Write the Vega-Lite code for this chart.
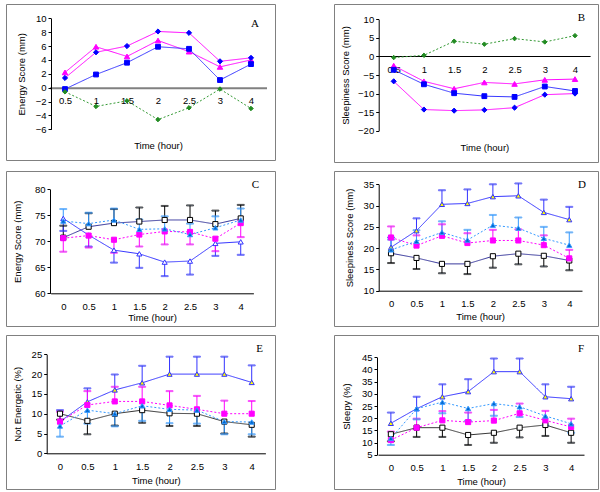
{
  "$schema": "https://vega.github.io/schema/vega-lite/v6.json",
  "padding": {"left": 5, "top": 3, "right": 0, "bottom": 0},
  "background": "white",
  "bounds": "flush",
  "columns": 2,
  "spacing": {"row": 9, "column": 59},
  "resolve": {"scale": {"x": "independent", "y": "independent", "color": "independent", "stroke": "independent", "fill": "independent", "shape": "independent", "size": "independent", "strokeDash": "independent"}},
  "datasets": {
    "d": [
      {"p":"A","s":"D1","t":"0.5","v":2.2},{"p":"A","s":"D1","t":"1","v":5.9},{"p":"A","s":"D1","t":"1.5","v":4.5},{"p":"A","s":"D1","t":"2","v":6.8},{"p":"A","s":"D1","t":"2.5","v":5.2},{"p":"A","s":"D1","t":"3","v":3.0},{"p":"A","s":"D1","t":"4","v":4.0},
      {"p":"A","s":"D2","t":"0.5","v":1.4},{"p":"A","s":"D2","t":"1","v":5.1},{"p":"A","s":"D2","t":"1.5","v":6.0},{"p":"A","s":"D2","t":"2","v":8.1},{"p":"A","s":"D2","t":"2.5","v":7.9},{"p":"A","s":"D2","t":"3","v":3.8},{"p":"A","s":"D2","t":"4","v":4.3},
      {"p":"A","s":"D3","t":"0.5","v":-0.2},{"p":"A","s":"D3","t":"1","v":1.9},{"p":"A","s":"D3","t":"1.5","v":3.6},{"p":"A","s":"D3","t":"2","v":5.9},{"p":"A","s":"D3","t":"2.5","v":5.6},{"p":"A","s":"D3","t":"3","v":1.1},{"p":"A","s":"D3","t":"4","v":3.4},
      {"p":"A","s":"D4","t":"0.5","v":-0.6},{"p":"A","s":"D4","t":"1","v":-2.7},{"p":"A","s":"D4","t":"1.5","v":-1.9},{"p":"A","s":"D4","t":"2","v":-4.6},{"p":"A","s":"D4","t":"2.5","v":-2.9},{"p":"A","s":"D4","t":"3","v":-0.2},{"p":"A","s":"D4","t":"4","v":-3.0},

      {"p":"B","s":"D1","t":"0.5","v":-2.5},{"p":"B","s":"D1","t":"1","v":-6.7},{"p":"B","s":"D1","t":"1.5","v":-8.7},{"p":"B","s":"D1","t":"2","v":-7.0},{"p":"B","s":"D1","t":"2.5","v":-7.4},{"p":"B","s":"D1","t":"3","v":-6.3},{"p":"B","s":"D1","t":"4","v":-6.1},
      {"p":"B","s":"D2","t":"0.5","v":-6.7},{"p":"B","s":"D2","t":"1","v":-14.3},{"p":"B","s":"D2","t":"1.5","v":-14.6},{"p":"B","s":"D2","t":"2","v":-14.4},{"p":"B","s":"D2","t":"2.5","v":-13.8},{"p":"B","s":"D2","t":"3","v":-10.3},{"p":"B","s":"D2","t":"4","v":-10.0},
      {"p":"B","s":"D3","t":"0.5","v":-3.6},{"p":"B","s":"D3","t":"1","v":-7.5},{"p":"B","s":"D3","t":"1.5","v":-9.9},{"p":"B","s":"D3","t":"2","v":-10.7},{"p":"B","s":"D3","t":"2.5","v":-10.9},{"p":"B","s":"D3","t":"3","v":-8.1},{"p":"B","s":"D3","t":"4","v":-9.3},
      {"p":"B","s":"D4","t":"0.5","v":-0.3},{"p":"B","s":"D4","t":"1","v":0.3},{"p":"B","s":"D4","t":"1.5","v":4.1},{"p":"B","s":"D4","t":"2","v":3.3},{"p":"B","s":"D4","t":"2.5","v":4.8},{"p":"B","s":"D4","t":"3","v":3.9},{"p":"B","s":"D4","t":"4","v":5.6},

      {"p":"C","s":"G1","t":"0","v":70.7,"e":73.0},{"p":"C","s":"G1","t":"0.5","v":72.8,"e":75.4},{"p":"C","s":"G1","t":"1","v":73.5,"e":76.2},{"p":"C","s":"G1","t":"1.5","v":73.8,"e":76.5},{"p":"C","s":"G1","t":"2","v":74.1,"e":76.8},{"p":"C","s":"G1","t":"2.5","v":74.1,"e":76.9},{"p":"C","s":"G1","t":"3","v":73.3,"e":75.9},{"p":"C","s":"G1","t":"4","v":74.4,"e":77.0},
      {"p":"C","s":"G2","t":"0","v":74.4,"e":72.0},{"p":"C","s":"G2","t":"0.5","v":71.2,"e":69.0},{"p":"C","s":"G2","t":"1","v":68.3,"e":65.9},{"p":"C","s":"G2","t":"1.5","v":67.6,"e":64.9},{"p":"C","s":"G2","t":"2","v":66.0,"e":63.3},{"p":"C","s":"G2","t":"2.5","v":66.2,"e":63.6},{"p":"C","s":"G2","t":"3","v":69.6,"e":67.2},{"p":"C","s":"G2","t":"4","v":69.9,"e":67.4},
      {"p":"C","s":"G3","t":"0","v":70.6,"e":68.0},{"p":"C","s":"G3","t":"0.5","v":71.1,"e":68.8},{"p":"C","s":"G3","t":"1","v":70.3,"e":67.8},{"p":"C","s":"G3","t":"1.5","v":71.3,"e":69.0},{"p":"C","s":"G3","t":"2","v":71.9,"e":69.4},{"p":"C","s":"G3","t":"2.5","v":71.8,"e":69.4},{"p":"C","s":"G3","t":"3","v":70.5,"e":68.1},{"p":"C","s":"G3","t":"4","v":73.5,"e":70.8},
      {"p":"C","s":"G4","t":"0","v":73.9,"e":76.2},{"p":"C","s":"G4","t":"0.5","v":73.4,"e":75.5},{"p":"C","s":"G4","t":"1","v":74.1,"e":76.3},{"p":"C","s":"G4","t":"1.5","v":72.3,"e":74.2},{"p":"C","s":"G4","t":"2","v":72.4,"e":74.8},{"p":"C","s":"G4","t":"2.5","v":71.3,"e":73.4},{"p":"C","s":"G4","t":"3","v":72.6,"e":74.8},{"p":"C","s":"G4","t":"4","v":74.1,"e":76.3},

      {"p":"D","s":"G1","t":"0","v":18.8,"e":16.5},{"p":"D","s":"G1","t":"0.5","v":17.7,"e":15.1},{"p":"D","s":"G1","t":"1","v":16.3,"e":14.1},{"p":"D","s":"G1","t":"1.5","v":16.3,"e":13.9},{"p":"D","s":"G1","t":"2","v":18.1,"e":15.4},{"p":"D","s":"G1","t":"2.5","v":18.7,"e":16.2},{"p":"D","s":"G1","t":"3","v":18.2,"e":15.7},{"p":"D","s":"G1","t":"4","v":17.1,"e":14.8},
      {"p":"D","s":"G2","t":"0","v":20.2,"e":22.5},{"p":"D","s":"G2","t":"0.5","v":24.1,"e":27.0},{"p":"D","s":"G2","t":"1","v":30.3,"e":33.6},{"p":"D","s":"G2","t":"1.5","v":30.5,"e":33.8},{"p":"D","s":"G2","t":"2","v":32.1,"e":35.0},{"p":"D","s":"G2","t":"2.5","v":32.3,"e":35.2},{"p":"D","s":"G2","t":"3","v":28.4,"e":31.4},{"p":"D","s":"G2","t":"4","v":26.7,"e":29.7},
      {"p":"D","s":"G3","t":"0","v":22.5,"e":25.1},{"p":"D","s":"G3","t":"0.5","v":20.6,"e":23.0},{"p":"D","s":"G3","t":"1","v":22.9,"e":25.6},{"p":"D","s":"G3","t":"1.5","v":21.2,"e":23.5},{"p":"D","s":"G3","t":"2","v":21.8,"e":24.3},{"p":"D","s":"G3","t":"2.5","v":21.8,"e":24.4},{"p":"D","s":"G3","t":"3","v":20.7,"e":23.0},{"p":"D","s":"G3","t":"4","v":17.6,"e":19.6},
      {"p":"D","s":"G4","t":"0","v":19.6,"e":22.0},{"p":"D","s":"G4","t":"0.5","v":21.6,"e":24.2},{"p":"D","s":"G4","t":"1","v":23.7,"e":26.3},{"p":"D","s":"G4","t":"1.5","v":21.9,"e":24.3},{"p":"D","s":"G4","t":"2","v":25.4,"e":27.8},{"p":"D","s":"G4","t":"2.5","v":24.7,"e":27.2},{"p":"D","s":"G4","t":"3","v":22.3,"e":25.0},{"p":"D","s":"G4","t":"4","v":20.7,"e":23.7},

      {"p":"E","s":"G1","t":"0","v":10.0,"e":8.5},{"p":"E","s":"G1","t":"0.5","v":8.2,"e":4.8},{"p":"E","s":"G1","t":"1","v":10.0,"e":7.0},{"p":"E","s":"G1","t":"1.5","v":10.9,"e":7.7},{"p":"E","s":"G1","t":"2","v":10.1,"e":6.9},{"p":"E","s":"G1","t":"2.5","v":10.0,"e":6.9},{"p":"E","s":"G1","t":"3","v":8.0,"e":5.0},{"p":"E","s":"G1","t":"4","v":7.2,"e":4.2},
      {"p":"E","s":"G2","t":"0","v":8.0,"e":10.9},{"p":"E","s":"G2","t":"0.5","v":13.0,"e":16.4},{"p":"E","s":"G2","t":"1","v":16.0,"e":19.9},{"p":"E","s":"G2","t":"1.5","v":17.8,"e":22.1},{"p":"E","s":"G2","t":"2","v":20.0,"e":24.4},{"p":"E","s":"G2","t":"2.5","v":20.0,"e":24.4},{"p":"E","s":"G2","t":"3","v":20.0,"e":24.4},{"p":"E","s":"G2","t":"4","v":17.9,"e":22.2},
      {"p":"E","s":"G3","t":"0","v":8.0,"e":10.5},{"p":"E","s":"G3","t":"0.5","v":12.2,"e":15.7},{"p":"E","s":"G3","t":"1","v":13.1,"e":16.8},{"p":"E","s":"G3","t":"1.5","v":13.1,"e":16.8},{"p":"E","s":"G3","t":"2","v":12.1,"e":15.7},{"p":"E","s":"G3","t":"2.5","v":11.1,"e":14.5},{"p":"E","s":"G3","t":"3","v":10.0,"e":13.3},{"p":"E","s":"G3","t":"4","v":10.0,"e":13.2},
      {"p":"E","s":"G4","t":"0","v":6.9,"e":4.2},{"p":"E","s":"G4","t":"0.5","v":10.9,"e":7.5},{"p":"E","s":"G4","t":"1","v":10.0,"e":6.8},{"p":"E","s":"G4","t":"1.5","v":12.0,"e":8.2},{"p":"E","s":"G4","t":"2","v":11.1,"e":7.6},{"p":"E","s":"G4","t":"2.5","v":10.9,"e":7.5},{"p":"E","s":"G4","t":"3","v":8.0,"e":4.8},{"p":"E","s":"G4","t":"4","v":7.9,"e":4.8},

      {"p":"F","s":"G1","t":"0","v":13.4,"e":10.5},{"p":"F","s":"G1","t":"0.5","v":16.1,"e":12.3},{"p":"F","s":"G1","t":"1","v":16.1,"e":12.3},{"p":"F","s":"G1","t":"1.5","v":13.1,"e":9.0},{"p":"F","s":"G1","t":"2","v":14.0,"e":9.9},{"p":"F","s":"G1","t":"2.5","v":16.1,"e":12.1},{"p":"F","s":"G1","t":"3","v":17.2,"e":12.7},{"p":"F","s":"G1","t":"4","v":14.0,"e":9.9},
      {"p":"F","s":"G2","t":"0","v":17.9,"e":22.3},{"p":"F","s":"G2","t":"0.5","v":23.9,"e":28.8},{"p":"F","s":"G2","t":"1","v":28.8,"e":33.9},{"p":"F","s":"G2","t":"1.5","v":30.9,"e":36.0},{"p":"F","s":"G2","t":"2","v":39.1,"e":44.5},{"p":"F","s":"G2","t":"2.5","v":39.1,"e":44.5},{"p":"F","s":"G2","t":"3","v":28.8,"e":33.9},{"p":"F","s":"G2","t":"4","v":28.0,"e":32.9},
      {"p":"F","s":"G3","t":"0","v":11.0,"e":14.5},{"p":"F","s":"G3","t":"0.5","v":16.1,"e":19.8},{"p":"F","s":"G3","t":"1","v":19.1,"e":22.9},{"p":"F","s":"G3","t":"1.5","v":18.4,"e":22.3},{"p":"F","s":"G3","t":"2","v":19.0,"e":23.4},{"p":"F","s":"G3","t":"2.5","v":22.0,"e":26.0},{"p":"F","s":"G3","t":"3","v":19.1,"e":23.0},{"p":"F","s":"G3","t":"4","v":16.4,"e":19.8},
      {"p":"F","s":"G4","t":"0","v":11.7,"e":9.0},{"p":"F","s":"G4","t":"0.5","v":23.9,"e":19.5},{"p":"F","s":"G4","t":"1","v":26.6,"e":22.0},{"p":"F","s":"G4","t":"1.5","v":24.0,"e":19.0},{"p":"F","s":"G4","t":"2","v":26.0,"e":21.0},{"p":"F","s":"G4","t":"2.5","v":24.7,"e":20.5},{"p":"F","s":"G4","t":"3","v":20.9,"e":17.0},{"p":"F","s":"G4","t":"4","v":17.7,"e":14.0}
    ]
  },
  "concat": [
    {
      "width": 269, "height": 156,
      "data": {"name": "d"},
      "transform": [{"filter": "datum.p === 'A'"}],
      "title": {"text": "A", "anchor": "end", "frame": "group", "offset": -25, "dx": -16, "font": "Liberation Serif", "fontSize": 11, "fontWeight": "normal", "color": "#000"},
      "encoding": {
        "x": {"field": "t", "type": "ordinal", "scale": {"type": "point", "domain": ["0.5","1","1.5","2","2.5","3","4"], "range": [43.5, 260.5], "padding": 0.5},
          "axis": {"title": "Time (hour)", "labelAngle": 0, "offset": -72.3, "ticks": false, "tickSize": 0, "labelPadding": 8, "titlePadding": 35, "domainColor": "#808080", "domainWidth": 2}},
        "y": {"field": "v", "type": "quantitative", "scale": {"domain": [-6, 10], "range": [125.3, 14.3], "nice": false, "zero": false},
          "axis": {"title": "Energy Score (mm)", "values": [-6,-4,-2,0,2,4,6,8,10], "offset": -45, "titlePadding": 9}}
      },
      "layer": [
        {"mark": {"type": "line", "strokeWidth": 1},
         "encoding": {
           "color": {"field": "s", "type": "nominal", "legend": null, "scale": {"domain": ["D1","D2","D3","D4"], "range": ["#FF00FF","#FF00FF","#3333FF","#339933"]}},
           "strokeDash": {"field": "s", "type": "nominal", "legend": null, "scale": {"domain": ["D1","D2","D3","D4"], "range": [[1,0],[1,0],[1,0],[2,2]]}}}},
        {"mark": {"type": "point", "opacity": 1, "fillOpacity": 1, "strokeWidth": 1},
         "encoding": {
           "shape": {"field": "s", "type": "nominal", "legend": null, "scale": {"domain": ["D1","D2","D3","D4"], "range": ["triangle-up","diamond","square","diamond"]}},
           "fill": {"field": "s", "type": "nominal", "legend": null, "scale": {"domain": ["D1","D2","D3","D4"], "range": ["#FF00FF","#0000FF","#0000FF","#228B22"]}},
           "stroke": {"field": "s", "type": "nominal", "legend": null, "scale": {"domain": ["D1","D2","D3","D4"], "range": ["#FF00FF","#0000FF","#0000FF","#228B22"]}},
           "size": {"field": "s", "type": "ordinal", "legend": null, "scale": {"domain": ["D1","D2","D3","D4"], "range": [30, 20, 26, 12]}}}}
      ]
    },
    {
      "width": 264, "height": 158,
      "data": {"name": "d"},
      "transform": [{"filter": "datum.p === 'B'"}],
      "title": {"text": "B", "anchor": "end", "frame": "group", "offset": -19, "dx": -13, "font": "Liberation Serif", "fontSize": 11, "fontWeight": "normal", "color": "#000"},
      "encoding": {
        "x": {"field": "t", "type": "ordinal", "scale": {"type": "point", "domain": ["0.5","1","1.5","2","2.5","3","4"], "range": [44.6, 256.1], "padding": 0.5},
          "axis": {"title": "Time (hour)", "labelAngle": 0, "offset": -106, "ticks": false, "tickSize": 0, "labelPadding": 8, "titlePadding": 69}},
        "y": {"field": "v", "type": "quantitative", "scale": {"domain": [-20, 10], "range": [126.7, 15.3], "nice": false, "zero": false},
          "axis": {"title": "Sleepiness Score (mm)", "values": [-20,-15,-10,-5,0,5,10], "offset": -44.7, "titlePadding": 7}}
      },
      "layer": [
        {"mark": {"type": "line", "strokeWidth": 1},
         "encoding": {
           "color": {"field": "s", "type": "nominal", "legend": null, "scale": {"domain": ["D1","D2","D3","D4"], "range": ["#FF00FF","#FF00FF","#3333FF","#339933"]}},
           "strokeDash": {"field": "s", "type": "nominal", "legend": null, "scale": {"domain": ["D1","D2","D3","D4"], "range": [[1,0],[1,0],[1,0],[2,2]]}}}},
        {"mark": {"type": "point", "opacity": 1, "fillOpacity": 1, "strokeWidth": 1},
         "encoding": {
           "shape": {"field": "s", "type": "nominal", "legend": null, "scale": {"domain": ["D1","D2","D3","D4"], "range": ["triangle-up","diamond","square","diamond"]}},
           "fill": {"field": "s", "type": "nominal", "legend": null, "scale": {"domain": ["D1","D2","D3","D4"], "range": ["#FF00FF","#0000FF","#0000FF","#228B22"]}},
           "stroke": {"field": "s", "type": "nominal", "legend": null, "scale": {"domain": ["D1","D2","D3","D4"], "range": ["#FF00FF","#0000FF","#0000FF","#228B22"]}},
           "size": {"field": "s", "type": "ordinal", "legend": null, "scale": {"domain": ["D1","D2","D3","D4"], "range": [30, 20, 26, 12]}}}}
      ]
    },
    {
      "width": 269, "height": 155,
      "data": {"name": "d"},
      "transform": [{"filter": "datum.p === 'C'"}],
      "title": {"text": "C", "anchor": "end", "frame": "group", "offset": -19, "dx": -16, "font": "Liberation Serif", "fontSize": 11, "fontWeight": "normal", "color": "#000"},
      "encoding": {
        "x": {"field": "t", "type": "ordinal", "scale": {"type": "point", "domain": ["0","0.5","1","1.5","2","2.5","3","4"], "range": [44.6, 247.4], "padding": 0.5},
          "axis": {"title": "Time (hour)", "labelAngle": 0, "offset": -32.7, "ticks": false, "tickSize": 0, "labelPadding": 8, "titlePadding": 2}},
        "y": {"field": "v", "type": "quantitative", "scale": {"domain": [60, 80], "range": [122.3, 18.3], "nice": false, "zero": false},
          "axis": {"title": "Energy Score (mm)", "values": [60,65,70,75,80], "offset": -44, "titlePadding": 12}}
      },
      "layer": [
        {"mark": {"type": "line", "strokeWidth": 1},
         "encoding": {
           "color": {"field": "s", "type": "nominal", "legend": null, "scale": {"domain": ["G1","G2","G3","G4"], "range": ["#333399","#3333FF","#FF00FF","#3399FF"]}},
           "strokeDash": {"field": "s", "type": "nominal", "legend": null, "scale": {"domain": ["G1","G2","G3","G4"], "range": [[1,0],[1,0],[2,2],[2,2]]}}}},
        {"transform": [{"filter": {"field": "e", "valid": true}}],
         "mark": {"type": "rule", "strokeWidth": 1},
         "encoding": {"y2": {"field": "e"},
           "stroke": {"field": "s", "type": "nominal", "legend": null, "scale": {"domain": ["G1","G2","G3","G4"], "range": ["#000000","#3333FF","#FF00FF","#3399FF"]}}}},
        {"transform": [{"filter": {"field": "e", "valid": true}}],
         "mark": {"type": "tick", "size": 7, "thickness": 1},
         "encoding": {"y": {"field": "e", "type": "quantitative"},
           "stroke": {"field": "s", "type": "nominal", "legend": null}}},
        {"mark": {"type": "point", "opacity": 1, "fillOpacity": 1, "strokeWidth": 1},
         "encoding": {
           "shape": {"field": "s", "type": "nominal", "legend": null, "scale": {"domain": ["G1","G2","G3","G4"], "range": ["square","triangle-up","square","triangle-up"]}},
           "fill": {"field": "s", "type": "nominal", "legend": null, "scale": {"domain": ["G1","G2","G3","G4"], "range": ["#FFFFFF","#FFFFFF","#FF00FF","#0066CC"]}},
           "stroke": {"field": "s", "type": "nominal", "legend": null},
           "size": {"value": 26}}}
      ]
    },
    {
      "width": 264, "height": 155,
      "data": {"name": "d"},
      "transform": [{"filter": "datum.p === 'D'"}],
      "title": {"text": "D", "anchor": "end", "frame": "group", "offset": -19, "dx": -12, "font": "Liberation Serif", "fontSize": 11, "fontWeight": "normal", "color": "#000"},
      "encoding": {
        "x": {"field": "t", "type": "ordinal", "scale": {"type": "point", "domain": ["0","0.5","1","1.5","2","2.5","3","4"], "range": [44.3, 248], "padding": 0.5},
          "axis": {"title": "Time (hour)", "labelAngle": 0, "offset": -35.3, "ticks": false, "tickSize": 0, "labelPadding": 8, "titlePadding": 3}},
        "y": {"field": "v", "type": "quantitative", "scale": {"domain": [10, 35], "range": [119.7, 13.3], "nice": false, "zero": false},
          "axis": {"title": "Sleepiness Score (mm)", "values": [10,15,20,25,30,35], "offset": -44.7, "titlePadding": 9}}
      },
      "layer": [
        {"mark": {"type": "line", "strokeWidth": 1},
         "encoding": {
           "color": {"field": "s", "type": "nominal", "legend": null, "scale": {"domain": ["G1","G2","G3","G4"], "range": ["#333399","#3333FF","#FF00FF","#3399FF"]}},
           "strokeDash": {"field": "s", "type": "nominal", "legend": null, "scale": {"domain": ["G1","G2","G3","G4"], "range": [[1,0],[1,0],[2,2],[2,2]]}}}},
        {"transform": [{"filter": {"field": "e", "valid": true}}],
         "mark": {"type": "rule", "strokeWidth": 1},
         "encoding": {"y2": {"field": "e"},
           "stroke": {"field": "s", "type": "nominal", "legend": null, "scale": {"domain": ["G1","G2","G3","G4"], "range": ["#000000","#3333FF","#FF00FF","#3399FF"]}}}},
        {"transform": [{"filter": {"field": "e", "valid": true}}],
         "mark": {"type": "tick", "size": 7, "thickness": 1},
         "encoding": {"y": {"field": "e", "type": "quantitative"},
           "stroke": {"field": "s", "type": "nominal", "legend": null}}},
        {"mark": {"type": "point", "opacity": 1, "fillOpacity": 1, "strokeWidth": 1},
         "encoding": {
           "shape": {"field": "s", "type": "nominal", "legend": null, "scale": {"domain": ["G1","G2","G3","G4"], "range": ["square","triangle-up","square","triangle-up"]}},
           "fill": {"field": "s", "type": "nominal", "legend": null, "scale": {"domain": ["G1","G2","G3","G4"], "range": ["#FFFFFF","#FFFF00","#FF00FF","#0066CC"]}},
           "stroke": {"field": "s", "type": "nominal", "legend": null},
           "size": {"value": 26}}}
      ]
    },
    {
      "width": 269, "height": 154,
      "data": {"name": "d"},
      "transform": [{"filter": "datum.p === 'E'"}],
      "title": {"text": "E", "anchor": "end", "frame": "group", "offset": -19, "dx": -12, "font": "Liberation Serif", "fontSize": 11, "fontWeight": "normal", "color": "#000"},
      "encoding": {
        "x": {"field": "t", "type": "ordinal", "scale": {"type": "point", "domain": ["0","0.5","1","1.5","2","2.5","3","4"], "range": [40.3, 259.4], "padding": 0.5},
          "axis": {"title": "Time (hour)", "labelAngle": 0, "offset": -35.7, "ticks": false, "tickSize": 0, "labelPadding": 8, "titlePadding": 5}},
        "y": {"field": "v", "type": "quantitative", "scale": {"domain": [0, 25], "range": [118.3, 19.3], "nice": false, "zero": false},
          "axis": {"title": "Not Energetic (%)", "values": [0,5,10,15,20,25], "offset": -40.7, "titlePadding": 9}}
      },
      "layer": [
        {"mark": {"type": "line", "strokeWidth": 1},
         "encoding": {
           "color": {"field": "s", "type": "nominal", "legend": null, "scale": {"domain": ["G1","G2","G3","G4"], "range": ["#333333","#3333FF","#FF00FF","#3399FF"]}},
           "strokeDash": {"field": "s", "type": "nominal", "legend": null, "scale": {"domain": ["G1","G2","G3","G4"], "range": [[1,0],[1,0],[2,2],[2,2]]}}}},
        {"transform": [{"filter": {"field": "e", "valid": true}}],
         "mark": {"type": "rule", "strokeWidth": 1},
         "encoding": {"y2": {"field": "e"},
           "stroke": {"field": "s", "type": "nominal", "legend": null, "scale": {"domain": ["G1","G2","G3","G4"], "range": ["#000000","#3333FF","#FF00FF","#3399FF"]}}}},
        {"transform": [{"filter": {"field": "e", "valid": true}}],
         "mark": {"type": "tick", "size": 7, "thickness": 1},
         "encoding": {"y": {"field": "e", "type": "quantitative"},
           "stroke": {"field": "s", "type": "nominal", "legend": null}}},
        {"mark": {"type": "point", "opacity": 1, "fillOpacity": 1, "strokeWidth": 1},
         "encoding": {
           "shape": {"field": "s", "type": "nominal", "legend": null, "scale": {"domain": ["G1","G2","G3","G4"], "range": ["square","triangle-up","square","triangle-up"]}},
           "fill": {"field": "s", "type": "nominal", "legend": null, "scale": {"domain": ["G1","G2","G3","G4"], "range": ["#FFFFFF","#FFFF00","#FF00FF","#0066CC"]}},
           "stroke": {"field": "s", "type": "nominal", "legend": null},
           "size": {"value": 26}}}
      ]
    },
    {
      "width": 264, "height": 154,
      "data": {"name": "d"},
      "transform": [{"filter": "datum.p === 'F'"}],
      "title": {"text": "F", "anchor": "end", "frame": "group", "offset": -19, "dx": -14, "font": "Liberation Serif", "fontSize": 11, "fontWeight": "normal", "color": "#000"},
      "encoding": {
        "x": {"field": "t", "type": "ordinal", "scale": {"type": "point", "domain": ["0","0.5","1","1.5","2","2.5","3","4"], "range": [44, 250], "padding": 0.5},
          "axis": {"title": "Time (hour)", "labelAngle": 0, "offset": -34.3, "ticks": false, "tickSize": 0, "labelPadding": 8, "titlePadding": 4}},
        "y": {"field": "v", "type": "quantitative", "scale": {"domain": [5, 45], "range": [119.7, 22.3], "nice": false, "zero": false},
          "axis": {"title": "Sleepy (%)", "values": [5,10,15,20,25,30,35,40,45], "offset": -43, "titlePadding": 10}}
      },
      "layer": [
        {"mark": {"type": "line", "strokeWidth": 1},
         "encoding": {
           "color": {"field": "s", "type": "nominal", "legend": null, "scale": {"domain": ["G1","G2","G3","G4"], "range": ["#333333","#3333FF","#FF00FF","#3399FF"]}},
           "strokeDash": {"field": "s", "type": "nominal", "legend": null, "scale": {"domain": ["G1","G2","G3","G4"], "range": [[1,0],[1,0],[2,2],[2,2]]}}}},
        {"transform": [{"filter": {"field": "e", "valid": true}}],
         "mark": {"type": "rule", "strokeWidth": 1},
         "encoding": {"y2": {"field": "e"},
           "stroke": {"field": "s", "type": "nominal", "legend": null, "scale": {"domain": ["G1","G2","G3","G4"], "range": ["#000000","#3333FF","#FF00FF","#3399FF"]}}}},
        {"transform": [{"filter": {"field": "e", "valid": true}}],
         "mark": {"type": "tick", "size": 7, "thickness": 1},
         "encoding": {"y": {"field": "e", "type": "quantitative"},
           "stroke": {"field": "s", "type": "nominal", "legend": null}}},
        {"mark": {"type": "point", "opacity": 1, "fillOpacity": 1, "strokeWidth": 1},
         "encoding": {
           "shape": {"field": "s", "type": "nominal", "legend": null, "scale": {"domain": ["G1","G2","G3","G4"], "range": ["square","triangle-up","square","triangle-up"]}},
           "fill": {"field": "s", "type": "nominal", "legend": null, "scale": {"domain": ["G1","G2","G3","G4"], "range": ["#FFFFFF","#FFFF00","#FF00FF","#0066CC"]}},
           "stroke": {"field": "s", "type": "nominal", "legend": null},
           "size": {"value": 26}}}
      ]
    }
  ],
  "config": {
    "view": {"stroke": "#808080", "strokeWidth": 1},
    "axis": {"grid": false, "labelFont": "Liberation Sans", "labelFontSize": 9.5, "labelColor": "#000", "titleFont": "Liberation Sans", "titleFontSize": 9.5, "titleFontWeight": "normal", "titleColor": "#000", "domainColor": "#000", "tickColor": "#000", "tickSize": 3, "labelPadding": 2}
  }
}
